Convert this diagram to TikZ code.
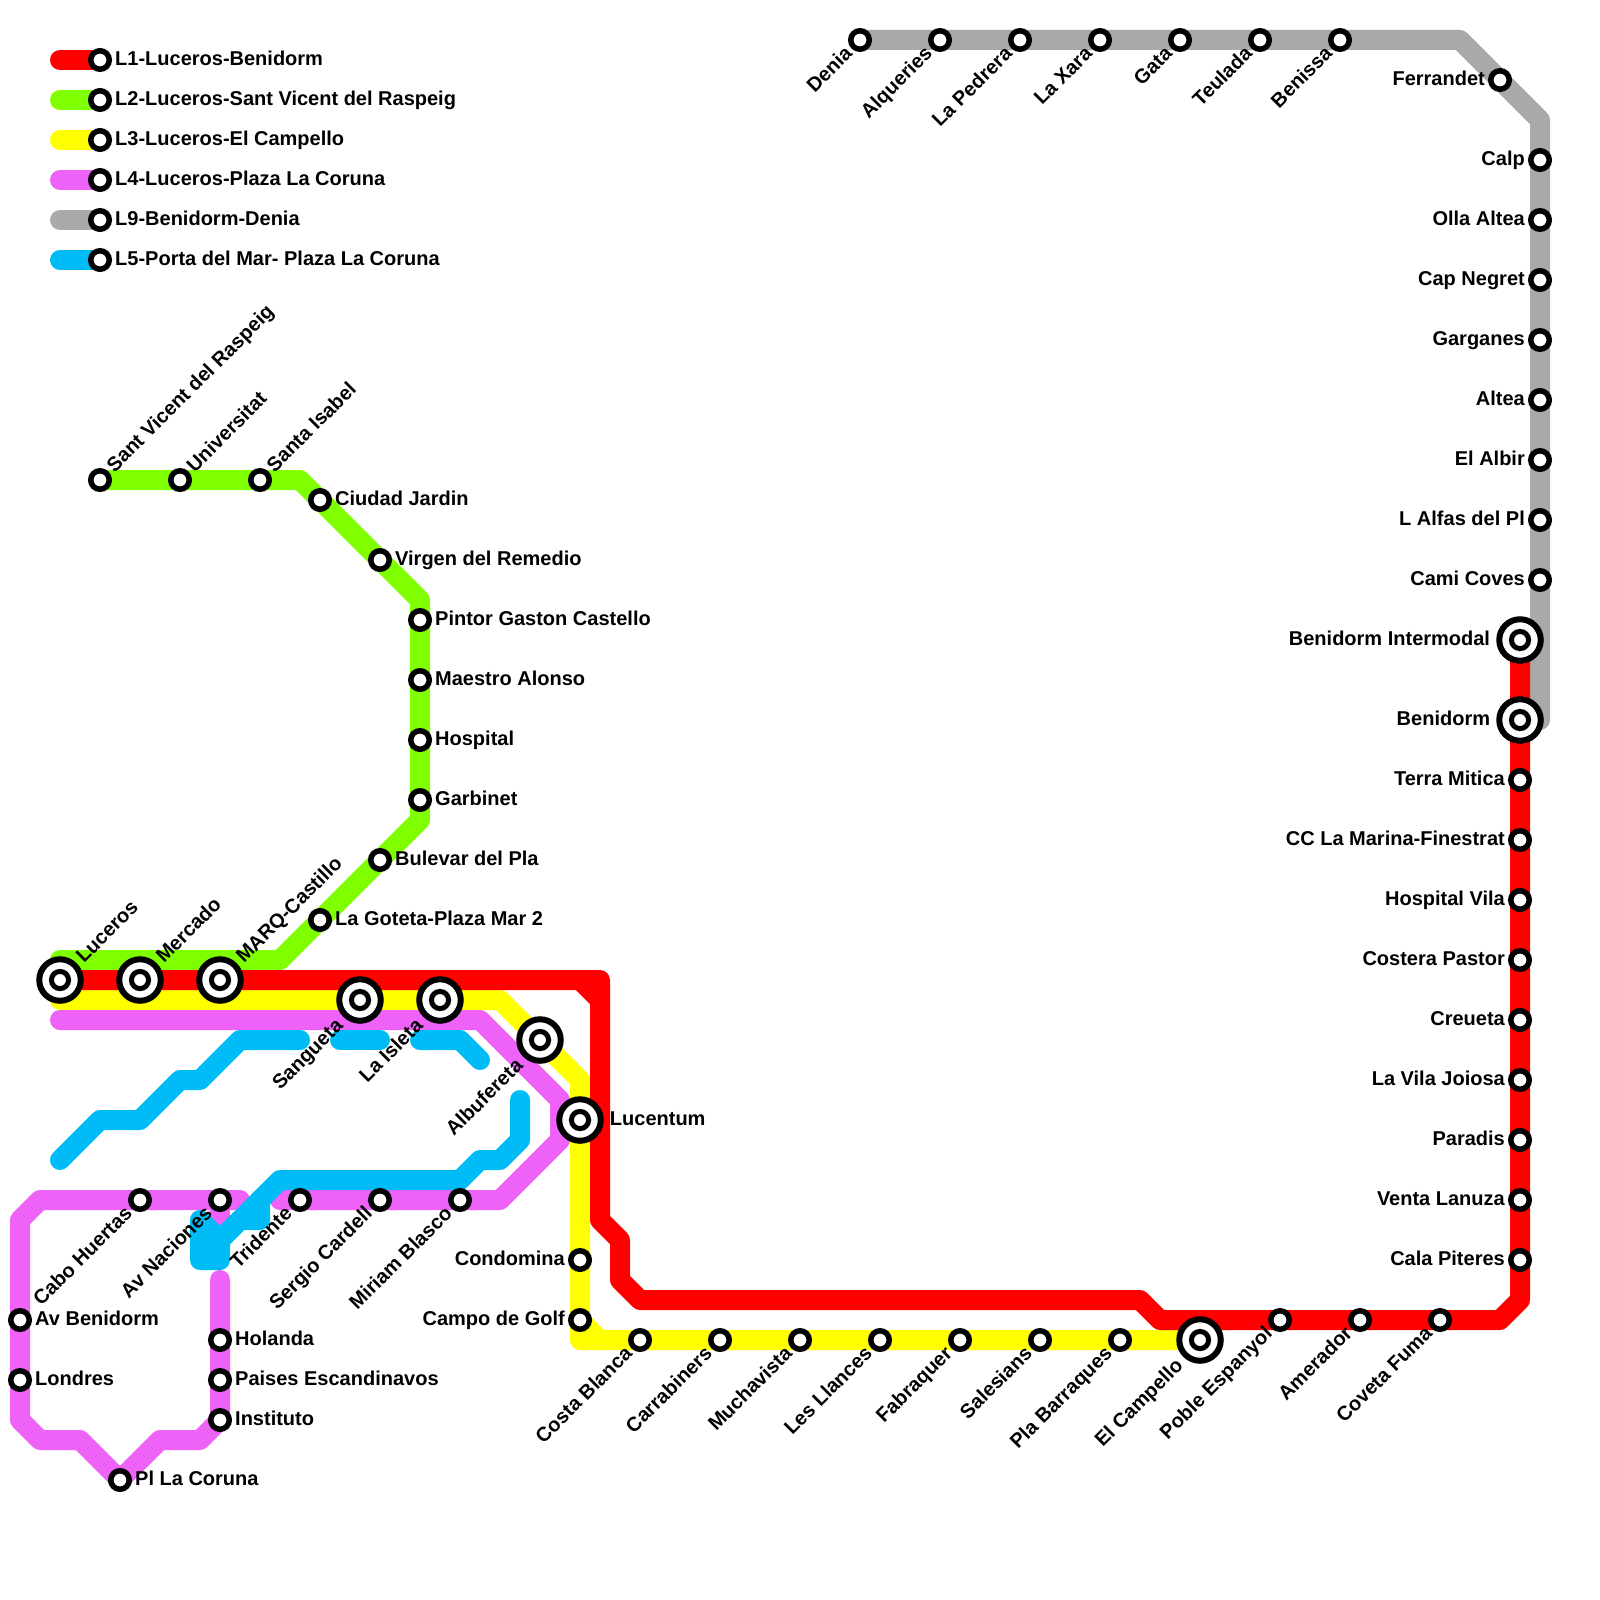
\documentclass[tikz,border=0pt]{standalone}
\usepackage{fontspec}
\setmainfont{Liberation Sans}
\usetikzlibrary{backgrounds}

\definecolor{lnred}{HTML}{FF0000}
\definecolor{lngreen}{HTML}{80FF00}
\definecolor{lnyellow}{HTML}{FFFF00}
\definecolor{lnpink}{HTML}{EE62F7}
\definecolor{lngray}{HTML}{A9A9A9}
\definecolor{lnblue}{HTML}{00BCF6}

\begin{document}
\begin{tikzpicture}[
        x=1pt, y=-1pt,
        stn/.style={circle, draw=black, fill=white, line width=5.5pt, minimum size=18.5pt, inner sep=0pt},
        hub/.style={stn, line width=6pt, minimum size=41.5pt, path picture={\draw[line width=5pt, fill=white] (path picture bounding box.center) circle (8.6pt);}},
        lbl/.style={font=\bfseries\fontsize{20}{22}\selectfont, inner sep=3pt, text height=14pt, text depth=2.6pt},
        lble/.style={lbl, anchor=west},
        lblw/.style={lbl, anchor=east},
        lblne/.style={lbl, rotate=45, anchor=west},
        lblsw/.style={lbl, rotate=45, anchor=east},
        hube/.style={lble, xshift=3pt},
        hubw/.style={lblw, xshift=-3pt},
        hubne/.style={lblne, xshift=1.5pt},
        hubsw/.style={lblsw, xshift=-3.5pt, yshift=-2pt},
        metro/.style={line width=20pt, line cap=round, line join=round}
    ]
    \useasboundingbox (0,0) rectangle (1600,1600);

    % Legend
    \node[stn, label={[lble]right:L1-Luceros-Benidorm}] (keya) at (100,60) {};
    \node[stn, label={[lble]right:L2-Luceros-Sant Vicent del Raspeig}] (keyb) at (100,100) {};
    \node[stn, label={[lble]right:L3-Luceros-El Campello}] (keyc) at (100,140) {};
    \node[stn, label={[lble]right:L4-Luceros-Plaza La Coruna}] (keyd) at (100,180) {};
    \node[stn, label={[lble]right:L9-Benidorm-Denia}] (keye) at (100,220) {};
    \node[stn, label={[lble]right:L5-Porta del Mar- Plaza La Coruna}] (keyf) at (100,260) {};
    \coordinate (keyas) at (60,60);
    \coordinate (keybs) at (60,100);
    \coordinate (keycs) at (60,140);
    \coordinate (keyds) at (60,180);
    \coordinate (keyes) at (60,220);
    \coordinate (keyfs) at (60,260);

    % Tronco
    \node[hub, label={[hubne]45:Luceros}] (luceros) at (60,980) {};
    \node[hub, label={[hubne]45:Mercado}] (mercado) at (140,980) {};
    \node[hub, label={[hubne]45:MARQ-Castillo}] (marq) at (220,980) {};
    \node[hub, label={[hubsw]225:Sangueta}] (sangueta) at (360,1000) {};
    \node[hub, label={[hubsw]225:La Isleta}] (isleta) at (440,1000) {};
    \node[hub, label={[hubsw]225:Albufereta}] (albufereta) at (540,1040) {};
    \node[hub, label={[hube]right:Lucentum}] (lucentum) at (580,1120) {};

    % L2
    \node[stn, label={[lblne]45:Sant Vicent del Raspeig}] (santvicent) at (100,480) {};
    \node[stn, label={[lblne]45:Universitat}] (universitat) at (180,480) {};
    \node[stn, label={[lblne]45:Santa Isabel}] (santaisabel) at (260,480) {};
    \node[stn, label={[lble]right:Ciudad Jardin}] (ciudadjardin) at (320,500) {};
    \node[stn, label={[lble]right:Virgen del Remedio}] (virgen) at (380,560) {};
    \node[stn, label={[lble]right:Pintor Gaston Castello}] (pintor) at (420,620) {};
    \node[stn, label={[lble]right:Maestro Alonso}] (maestro) at (420,680) {};
    \node[stn, label={[lble]right:Hospital}] (hospital) at (420,740) {};
    \node[stn, label={[lble]right:Garbinet}] (garbinet) at (420,800) {};
    \node[stn, label={[lble]right:Bulevar del Pla}] (bulevar) at (380,860) {};
    \node[stn, label={[lble]right:La Goteta-Plaza Mar 2}] (goteta) at (320,920) {};

    % L4
    \node[stn, label={[lblsw]225:Cabo Huertas}] (cabohuertas) at (140,1200) {};
    \node[stn, label={[lblsw]225:Av Naciones}] (avnaciones) at (220,1200) {};
    \node[stn, label={[lblsw]225:Tridente}] (tridente) at (300,1200) {};
    \node[stn, label={[lblsw]225:Sergio Cardell}] (sergio) at (380,1200) {};
    \node[stn, label={[lblsw]225:Miriam Blasco}] (miriam) at (460,1200) {};
    \node[stn, label={[lble]right:Av Benidorm}] (avbenidorm) at (20,1320) {};
    \node[stn, label={[lble]right:Londres}] (londres) at (20,1380) {};
    \node[stn, label={[lble]right:Holanda}] (holanda) at (220,1340) {};
    \node[stn, label={[lble]right:Paises Escandinavos}] (paises) at (220,1380) {};
    \node[stn, label={[lble]right:Instituto}] (instituto) at (220,1420) {};
    \node[stn, label={[lble]right:Pl La Coruna}] (plcoruna) at (120,1480) {};

    % L3
    \node[stn, label={[lblw]left:Condomina}] (condomina) at (580,1260) {};
    \node[stn, label={[lblw]left:Campo de Golf}] (campogolf) at (580,1320) {};
    \node[stn, label={[lblsw]225:Costa Blanca}] (costablanca) at (640,1340) {};
    \node[stn, label={[lblsw]225:Carrabiners}] (carrabiners) at (720,1340) {};
    \node[stn, label={[lblsw]225:Muchavista}] (muchavista) at (800,1340) {};
    \node[stn, label={[lblsw]225:Les Llances}] (llances) at (880,1340) {};
    \node[stn, label={[lblsw]225:Fabraquer}] (fabraquer) at (960,1340) {};
    \node[stn, label={[lblsw]225:Salesians}] (salesians) at (1040,1340) {};
    \node[stn, label={[lblsw]225:Pla Barraques}] (barraques) at (1120,1340) {};
    \node[hub, label={[hubsw]225:El Campello}] (campello) at (1200,1340) {};

    % L1
    \node[stn, label={[lblsw]225:Poble Espanyol}] (poble) at (1280,1320) {};
    \node[stn, label={[lblsw]225:Amerador}] (amerador) at (1360,1320) {};
    \node[stn, label={[lblsw]225:Coveta Fuma}] (coveta) at (1440,1320) {};
    \node[stn, label={[lblw]left:Cala Piteres}] (cala) at (1520,1260) {};
    \node[stn, label={[lblw]left:Venta Lanuza}] (venta) at (1520,1200) {};
    \node[stn, label={[lblw]left:Paradis}] (paradis) at (1520,1140) {};
    \node[stn, label={[lblw]left:La Vila Joiosa}] (vila) at (1520,1080) {};
    \node[stn, label={[lblw]left:Creueta}] (creueta) at (1520,1020) {};
    \node[stn, label={[lblw]left:Costera Pastor}] (costera) at (1520,960) {};
    \node[stn, label={[lblw]left:Hospital Vila}] (hospvila) at (1520,900) {};
    \node[stn, label={[lblw]left:CC La Marina-Finestrat}] (marina) at (1520,840) {};
    \node[stn, label={[lblw]left:Terra Mitica}] (terra) at (1520,780) {};
    \node[hub, label={[hubw]left:Benidorm}] (benidorm) at (1520,720) {};
    \node[hub, label={[hubw]left:Benidorm Intermodal}] (intermodal) at (1520,640) {};

    % L9
    \node[stn, label={[lblw]left:Cami Coves}] (camicoves) at (1540,580) {};
    \node[stn, label={[lblw]left:L Alfas del Pl}] (alfas) at (1540,520) {};
    \node[stn, label={[lblw]left:El Albir}] (albir) at (1540,460) {};
    \node[stn, label={[lblw]left:Altea}] (altea) at (1540,400) {};
    \node[stn, label={[lblw]left:Garganes}] (garganes) at (1540,340) {};
    \node[stn, label={[lblw]left:Cap Negret}] (capnegret) at (1540,280) {};
    \node[stn, label={[lblw]left:Olla Altea}] (olla) at (1540,220) {};
    \node[stn, label={[lblw]left:Calp}] (calp) at (1540,160) {};
    \node[stn, label={[lblw]left:Ferrandet}] (ferrandet) at (1500,80) {};
    \node[stn, label={[lblsw]225:Benissa}] (benissa) at (1340,40) {};
    \node[stn, label={[lblsw]225:Teulada}] (teulada) at (1260,40) {};
    \node[stn, label={[lblsw]225:Gata}] (gata) at (1180,40) {};
    \node[stn, label={[lblsw]225:La Xara}] (xara) at (1100,40) {};
    \node[stn, label={[lblsw]225:La Pedrera}] (pedrera) at (1020,40) {};
    \node[stn, label={[lblsw]225:Alqueries}] (alqueries) at (940,40) {};
    \node[stn, label={[lblsw]225:Denia}] (denia) at (860,40) {};

    % Lineas
    \begin{scope}[on background layer]
        \draw[metro, lnred] (keyas) -- (keya.center);
        \draw[metro, lngreen] (keybs) -- (keyb.center);
        \draw[metro, lnyellow] (keycs) -- (keyc.center);
        \draw[metro, lnpink] (keyds) -- (keyd.center);
        \draw[metro, lngray] (keyes) -- (keye.center);
        \draw[metro, lnblue] (keyfs) -- (keyf.center);

        \draw[metro, lngray] (denia.center) -- (1460,40) -- (1540,120) -- (1540,720);
        \draw[metro, lngreen] (60,960) -- (280,960) -- (420,820) -- (420,600) -- (300,480) -- (santvicent.center);
        \draw[metro, lnyellow] (60,1000) -- (500,1000) -- (580,1080) -- (580,1340) -- (campello.center);
        \draw[metro, lnyellow] (campogolf.center) -- (600,1340);
        \draw[metro, lnpink] (60,1020) -- (480,1020) -- (560,1100) -- (560,1140) -- (500,1200) -- (tridente.center) -- (280,1200);
        \draw[metro, lnpink] (240,1200) -- (40,1200) -- (20,1220) -- (20,1420) -- (40,1440) -- (80,1440) -- (plcoruna.center) -- (160,1440) -- (200,1440) -- (220,1420) -- (220,1280);
        \draw[metro, lnpink] (avnaciones.center) -- (220,1240);
        \draw[metro, lnblue] (60,1160) -- (100,1120) -- (140,1120) -- (180,1080) -- (200,1080) -- (240,1040) -- (300,1040);
        \draw[metro, lnblue] (340,1040) -- (380,1040);
        \draw[metro, lnblue] (420,1040) -- (460,1040) -- (480,1060);
        \draw[metro, lnblue] (520,1100) -- (520,1140) -- (500,1160) -- (480,1160) -- (460,1180) -- (280,1180) -- (220,1240) -- (220,1260) -- (200,1260) -- (200,1220) -- (220,1240);
        \draw[metro, lnblue] (260,1200) -- (260,1220) -- (240,1220) -- (220,1240);
        \draw[metro, lnred] (luceros.center) -- (600,980) -- (600,1220) -- (620,1240) -- (620,1280) -- (640,1300) -- (1140,1300) -- (1160,1320) -- (1500,1320) -- (1520,1300) -- (intermodal.center);
        \draw[metro, lnred] (580,980) -- (600,1000);
    \end{scope}
\end{tikzpicture}
\end{document}
